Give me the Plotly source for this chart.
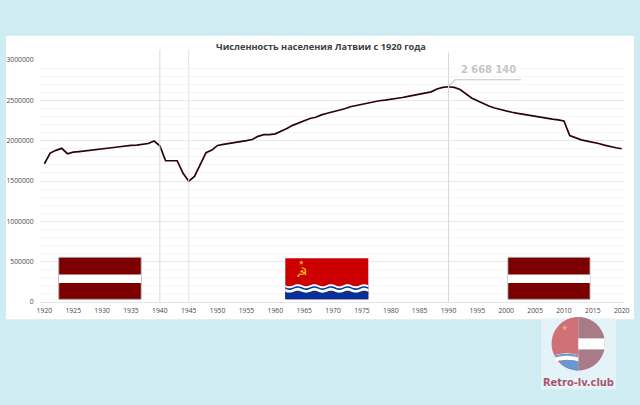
import numpy as np
import plotly.graph_objects as go

years = [1920,1921,1922,1923,1924,1925,1926,1927,1928,1929,1930,1931,1932,1933,1934,1935,1936,1937,1938,1939,
         1940,1941,1942,1943,1944,1945,1946,1947,1948,1949,1950,1951,1952,1953,1954,1955,1956,1957,1958,1959,
         1960,1961,1962,1963,1964,1965,1966,1967,1968,1969,1970,1971,1972,1973,1974,1975,1976,1977,1978,1979,
         1980,1981,1982,1983,1984,1985,1986,1987,1988,1989,1990,1991,1992,1993,1994,1995,1996,1997,1998,1999,
         2000,2001,2002,2003,2004,2005,2006,2007,2008,2009,2010,2011,2012,2013,2014,2015,2016,2017,2018,2019,2020]
population = [1714000,1846000,1880000,1905000,1838000,1858000,1865000,1872000,1885000,1895000,
              1900000,1905000,1915000,1925000,1935000,1941000,1945000,1955000,1965000,1996000,
              1936000,1751000,1751000,1751000,1598000,1498000,1556000,1700000,1851000,1883000,
              1941000,1955000,1965000,1975000,1990000,2000000,2015000,2054000,2075000,2075000,
              2085000,2115000,2150000,2190000,2220000,2253000,2275000,2290000,2320000,2340000,
              2357000,2375000,2395000,2420000,2435000,2455000,2470000,2485000,2495000,2502000,
              2510000,2520000,2535000,2550000,2564000,2575000,2590000,2605000,2640000,2660000,
              2668140,2660000,2635000,2577000,2530000,2494000,2460000,2430000,2405000,2385000,
              2369000,2352000,2338000,2325000,2312000,2299000,2288000,2277000,2266000,2257000,
              2245000,2063000,2035000,2010000,1995000,1984000,1965000,1945000,1925000,1912000,1900000]
ticks_y = [0,500000,1000000,1500000,2000000,2500000,3000000]
ticks_x = list(range(1920,2021,5))
title_text = "Численность населения Латвии с 1920 года"
peak_label = "2 668 140"
logo_text = "Retro-lv.club"
event_years = [1940,1945,1990]

W,H = 640,405
L,R,T,B = 40,16,60.3,103.3
def px(x): return (x-L)/(W-L-R)
def py(y): return 1-(y-T)/(H-T-B)
def poly(points):
    return "M "+" L ".join(f"{px(a):.5f},{py(b):.5f}" for a,b in points)+" Z"

shapes=[]
def pixel_rect(x0,y0,x1,y1,fill,line=None,layer="below"):
    shapes.append(dict(type="rect",xref="paper",yref="paper",x0=px(x0),x1=px(x1),y0=py(y0),y1=py(y1),
                       fillcolor=fill,line=dict(width=1 if line else 0,color=line or fill),layer=layer))
def add_poly(points,fill):
    shapes.append(dict(type="path",xref="paper",yref="paper",path=poly(points),fillcolor=fill,
                       line=dict(width=0),layer="above"))
def star(cx,cy,r,fill):
    a=np.pi/2+np.arange(10)*np.pi/5
    rad=np.where(np.arange(10)%2==0,r,r*0.42)
    add_poly(list(zip(cx+rad*np.cos(a),cy-rad*np.sin(a))),fill)

# white panel with a faint lower edge
pixel_rect(6,37,634.5,320,"#dfe5e8")
pixel_rect(6,36,634,319,"#ffffff")

for yr,top,col in zip(event_years,[50,50,53],["#d9d9d9","#e4e4e4","#d9d9d9"]):
    shapes.append(dict(type="line",xref="x",yref="paper",x0=yr,x1=yr,y0=0,y1=py(top),
                       line=dict(color=col,width=1),layer="above"))

# Latvian flags
def latvia(x0,x1):
    shapes.append(dict(type="rect",xref="x",yref="y",x0=x0,x1=x1,y0=34000,y1=553000,fillcolor="#7c0000",
                       line=dict(color="#a59a9a",width=0.8),layer="above"))
    shapes.append(dict(type="rect",xref="x",yref="y",x0=x0,x1=x1,y0=237000,y1=341000,fillcolor="#ffffff",
                       line=dict(width=0),layer="above"))
latvia(1922.5,1936.75)
latvia(2000.3,2014.5)

# Soviet Latvia flag
fx0,fx1 = 285.3,368.3
pixel_rect(fx0,258,fx1,299,"#cc0000",None,"above")
xs=np.linspace(fx0,fx1,70)
wave=lambda y0,a:y0+a*np.sin((xs-fx0)/83*2*np.pi*5.0)
def band(y0,y1,color):
    add_poly(list(zip(xs,wave(y0,1.1)))+list(zip(xs[::-1],wave(y1,1.1)[::-1])),color)
band(285,292,"#ffffff")
band(287,288.6,"#003c9c")
pixel_rect(fx0,292.4,fx1,299,"#003399",None,"above")
band(291.5,293,"#003399")
star(301.3,262.5,2.6,"#f0a840")

# leader line for the peak
shapes.append(dict(type="path",xref="paper",yref="paper",
    path=f"M {px(448.3):.5f},{py(87):.5f} L {px(455):.5f},{py(80):.5f} L {px(521):.5f},{py(80):.5f}",
    line=dict(color="#c8c8c8",width=1.2),layer="above"))

# logo
pixel_rect(541,318,616,389,"#e4f3f8",None,"above")
cx,cy,r = 578.3,343.3,26.7
t=np.linspace(np.pi/2,3*np.pi/2,50)
add_poly(list(zip(cx+r*np.cos(t),cy-r*np.sin(t))),"#cf7176")
add_poly(list(zip(cx-r*np.cos(t),cy-r*np.sin(t))),"#a97a87")
pixel_rect(cx,338,cx+26.5,349,"#ffffff",None,"above")
lw=np.linspace(cx-23,cx,24)
arch=lambda y0:y0-1.6*np.sin((lw-lw[0])/23*np.pi)
add_poly(list(zip(lw,arch(354.5)))+list(zip(lw[::-1],arch(361)[::-1])),"#ffffff")
add_poly(list(zip(lw,arch(354.8)))+list(zip(lw[::-1],arch(357)[::-1])),"#6a97cf")
ang=np.linspace(np.pi*1.26,np.pi*1.5,24)
lw2=np.linspace(cx+r*np.cos(ang[0]),cx,20)
add_poly(list(zip(lw2,361-1.5*np.sin((lw2-lw2[0])/(cx-lw2[0])*np.pi)))+[(cx+r*np.cos(a),cy-r*np.sin(a)) for a in ang[::-1]],"#6a97cf")
star(564.7,327.5,3,"#dcb070")

def note(text,x,y,size,color,family="Open Sans",bold=False):
    return dict(text=f"<b>{text}</b>" if bold else text,xref="paper",yref="paper",x=px(x),y=py(y),
                xanchor="center",yanchor="middle",showarrow=False,font=dict(size=size,color=color,family=family))

annotations=[
    note(title_text,321,47,9.2,"#404040",bold=True),
    note(peak_label,488,70,11,"#c6c6c6","DejaVu Sans Condensed",True),
    note("☭",301.7,272,13,"#f5c518","DejaVu Sans"),
    note(logo_text,578,382,11,"#a8566e","DejaVu Sans Condensed",True),
]

fig=go.Figure(go.Scatter(x=years,y=population,mode="lines",line=dict(color="#2e0306",width=1.7),hoverinfo="skip"))
fig.update_layout(
    width=W,height=H,autosize=False,showlegend=False,
    paper_bgcolor="#d0ecf3",plot_bgcolor="rgba(0,0,0,0)",
    margin=dict(l=L,r=R,t=T,b=B,pad=0),
    shapes=shapes,annotations=annotations,
    font=dict(family="Open Sans",size=7,color="#4a4a4a"),
    xaxis=dict(range=[1919.24,2020.4],tickmode="array",tickvals=ticks_x,ticktext=[str(v) for v in ticks_x],
               automargin=False,showgrid=False,zeroline=False,showline=True,linecolor="#e4e4e4",
               ticks="outside",ticklen=2,tickcolor="rgba(0,0,0,0)",tickangle=0,
               tickfont=dict(size=6.8,color="#4a4a4a")),
    yaxis=dict(range=[0,3000000],tickmode="array",tickvals=ticks_y,ticktext=[str(v) for v in ticks_y],
               automargin=False,showgrid=True,gridcolor="#e8e8e8",gridwidth=1,zeroline=False,showline=False,
               ticks="outside",ticklen=4,tickcolor="rgba(0,0,0,0)",
               tickfont=dict(size=6.8,color="#4a4a4a"),
               minor=dict(dtick=100000,tick0=0,showgrid=True,gridcolor="#f6f6f6",gridwidth=1,ticks="")),
)
fig.write_html("out.html",post_script="document.body.style.margin='0';",config={"displayModeBar":False})
